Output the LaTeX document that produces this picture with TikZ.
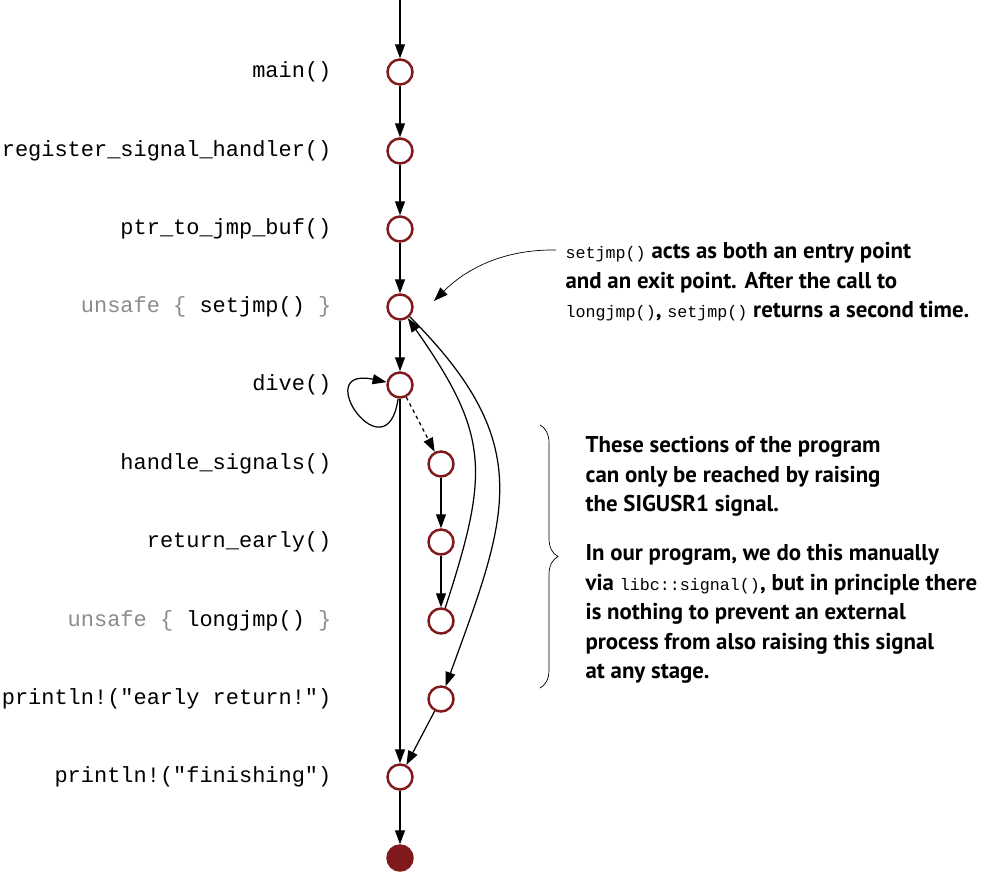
\documentclass[tikz,border=0pt]{standalone}
\usepackage{fontspec}
\setmainfont{PT Sans}
\setmonofont{Liberation Mono}
\usetikzlibrary{arrows.meta,decorations.pathreplacing}
\definecolor{stopred}{RGB}{128,24,28}
\definecolor{codegray}{RGB}{140,140,140}
\newcommand\jcode[1]{{\normalfont\ttfamily\fontsize{9.5}{16.8}\selectfont #1}}
\begin{document}
\begin{tikzpicture}[>={Stealth[length=2.8mm,width=2mm,inset=0pt]},line width=0.7pt,
    pt/.style={circle,draw=stopred,line width=1.4pt,fill=white,minimum size=5mm,inner sep=0pt},
    fn/.style={anchor=east,inner sep=0pt,font=\ttfamily\fontsize{12.5}{15}\selectfont},
    note/.style={anchor=north west,align=left,inner sep=0pt,font=\bfseries\fontsize{13}{16.8}\selectfont}]
    \useasboundingbox (0,0) rectangle (20.06,-17.44);
    \coordinate (top) at (8,0);
    \node[pt] (main) at (8,-1.44){};
    \node[pt] (reg) at (8,-3.02){};
    \node[pt] (ptr) at (8,-4.58){};
    \node[pt] (setjmp) at (8,-6.14){};
    \node[pt] (dive) at (8,-7.70){};
    \node[pt] (handle) at (8.82,-9.28){};
    \node[pt] (early) at (8.82,-10.84){};
    \node[pt] (longjmp) at (8.82,-12.42){};
    \node[pt] (eret) at (8.82,-13.98){};
    \node[pt] (finish) at (8,-15.54){};
    \node[pt,fill=stopred] (stop) at (8,-17.16){};
    % function names
    \node[fn] at (6.64,-1.44){main()};
    \node[fn] at (6.64,-3.02){register\_signal\_handler()};
    \node[fn] at (6.64,-4.58){ptr\_to\_jmp\_buf()};
    \node[fn] at (6.64,-6.14){\color{codegray}unsafe \{ \color{black}setjmp() \color{codegray}\}};
    \node[fn] at (6.64,-7.70){dive()};
    \node[fn] at (6.64,-9.28){handle\_signals()};
    \node[fn] at (6.64,-10.84){return\_early()};
    \node[fn] at (6.64,-12.42){\color{codegray}unsafe \{ \color{black}longjmp() \color{codegray}\}};
    \node[fn] at (6.64,-13.98){println!("early return!")};
    \node[fn] at (6.64,-15.54){println!("finishing")};
    % control flow
    \draw[->](top)--(main);
    \draw[->](main)--(reg);
    \draw[->](reg)--(ptr);
    \draw[->](ptr)--(setjmp);
    \draw[->](setjmp)--(dive);
    \draw[->](dive)--(finish);
    \draw[->](finish)--(stop);
    \draw[->](dive) to[out=262,in=168,min distance=1.6cm] (dive);
    \draw[->,dash pattern=on 2pt off 2pt](dive)--(handle);
    \draw[->](handle)--(early);
    \draw[->](early)--(longjmp);
    \draw[->](eret)--(finish);
    \draw[->](setjmp) to[out=-45,in=70,looseness=1.25] (eret);
    \draw[->](longjmp) to[out=72,in=-55,looseness=1.25] (setjmp);
    % notes
    \node[note] (jmpnote) at (11.3,-4.84){\jcode{setjmp()} acts as both an entry point\\and an exit point. After the call to\\\jcode{longjmp()}, \jcode{setjmp()} returns a second time.};
    \coordinate (notefrom) at (11.12,-5.0);
    \coordinate (noteto) at (8.68,-6.02);
    \draw[->,thin](notefrom) .. controls (9.8,-4.98) and (9.1,-5.6) .. (noteto);
    \draw[thin,decorate,decoration={brace,amplitude=0.36cm}](10.8,-8.5)--(10.8,-13.76);
    \node[note] (signote) at (11.7,-8.72){These sections of the program\\can only be reached by raising\\the SIGUSR1 signal.\\[11pt]In our program, we do this manually\\via \jcode{libc::signal()}, but in principle there\\is nothing to prevent an external\\process from also raising this signal\\at any stage.};
\end{tikzpicture}
\end{document}
